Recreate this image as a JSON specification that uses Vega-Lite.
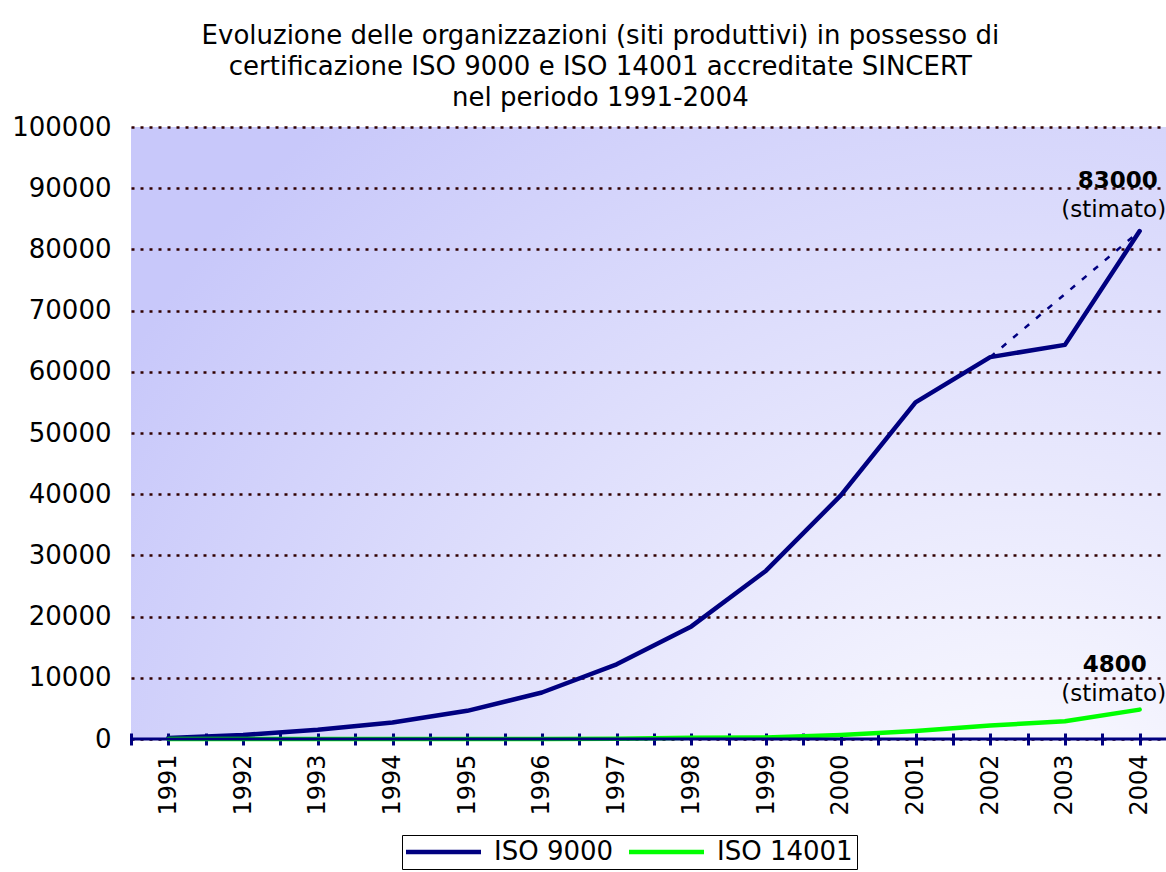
{
  "$schema": "https://vega.github.io/schema/vega-lite/v6.json",
  "width": 1046,
  "height": 612,
  "padding": {"left": 11, "top": 23, "right": 5, "bottom": 5},
  "title": {
    "text": ["Evoluzione delle organizzazioni (siti produttivi) in possesso di", "certificazione ISO 9000 e ISO 14001 accreditate SINCERT", "nel periodo 1991-2004"],
    "font": "DejaVu Sans",
    "fontSize": 26,
    "fontWeight": "normal",
    "color": "#000000",
    "lineHeight": 31,
    "anchor": "middle",
    "frame": "bounds",
    "offset": 3
  },
  "config": {
    "font": "DejaVu Sans",
    "view": {
      "stroke": null,
      "fill": {
        "gradient": "radial",
        "x1": 0.85, "y1": 0.95, "r1": 0,
        "x2": 0.85, "y2": 0.95, "r2": 1.0,
        "stops": [
          {"offset": 0, "color": "#ffffff"},
          {"offset": 1, "color": "#c8c8fa"}
        ]
      }
    }
  },
  "datasets": {
    "series": [
      {"year": 1991, "serie": "ISO 9000", "value": 150},
      {"year": 1992, "serie": "ISO 9000", "value": 650},
      {"year": 1993, "serie": "ISO 9000", "value": 1500},
      {"year": 1994, "serie": "ISO 9000", "value": 2700},
      {"year": 1995, "serie": "ISO 9000", "value": 4600},
      {"year": 1996, "serie": "ISO 9000", "value": 7600},
      {"year": 1997, "serie": "ISO 9000", "value": 12200},
      {"year": 1998, "serie": "ISO 9000", "value": 18400},
      {"year": 1999, "serie": "ISO 9000", "value": 27500},
      {"year": 2000, "serie": "ISO 9000", "value": 39800},
      {"year": 2001, "serie": "ISO 9000", "value": 55000},
      {"year": 2002, "serie": "ISO 9000", "value": 62400},
      {"year": 2003, "serie": "ISO 9000", "value": 64400},
      {"year": 2004, "serie": "ISO 9000", "value": 83000},
      {"year": 1991, "serie": "ISO 14001", "value": 0},
      {"year": 1992, "serie": "ISO 14001", "value": 0},
      {"year": 1993, "serie": "ISO 14001", "value": 0},
      {"year": 1994, "serie": "ISO 14001", "value": 0},
      {"year": 1995, "serie": "ISO 14001", "value": 0},
      {"year": 1996, "serie": "ISO 14001", "value": 0},
      {"year": 1997, "serie": "ISO 14001", "value": 50},
      {"year": 1998, "serie": "ISO 14001", "value": 200},
      {"year": 1999, "serie": "ISO 14001", "value": 250},
      {"year": 2000, "serie": "ISO 14001", "value": 650},
      {"year": 2001, "serie": "ISO 14001", "value": 1300},
      {"year": 2002, "serie": "ISO 14001", "value": 2200},
      {"year": 2003, "serie": "ISO 14001", "value": 2900},
      {"year": 2004, "serie": "ISO 14001", "value": 4800}
    ],
    "projection": [
      {"year": 2002, "value": 62400},
      {"year": 2004, "value": 83000}
    ],
    "notes": [
      {"year": 2004, "value": 83000, "label": "83000"},
      {"year": 2004, "value": 4800, "label": "4800"}
    ]
  },
  "encoding": {
    "x": {
      "field": "year",
      "type": "quantitative",
      "scale": {"domain": [1990.5, 2004.5], "nice": false, "zero": false},
      "axis": {
        "title": null,
        "values": [1990.5, 1991, 1991.5, 1992, 1992.5, 1993, 1993.5, 1994, 1994.5, 1995, 1995.5, 1996, 1996.5, 1997, 1997.5, 1998, 1998.5, 1999, 1999.5, 2000, 2000.5, 2001, 2001.5, 2002, 2002.5, 2003, 2003.5, 2004, 2004.5],
        "labelExpr": "datum.value % 1 == 0 ? '' + datum.value : ''",
        "labelAngle": 270,
        "labelAlign": "right",
        "labelBaseline": "middle",
        "labelFontSize": 24,
        "labelColor": "#000000",
        "labelPadding": 9,
        "labelOverlap": false,
        "labelFlush": false,
        "domain": false,
        "offset": -6,
        "tickSize": 12,
        "tickWidth": 3,
        "tickColor": "#000080",
        "grid": false
      }
    },
    "y": {
      "field": "value",
      "type": "quantitative",
      "scale": {"domain": [0, 100000], "nice": false},
      "axis": {
        "title": null,
        "values": [0, 10000, 20000, 30000, 40000, 50000, 60000, 70000, 80000, 90000, 100000],
        "format": "d",
        "labelFontSize": 26,
        "labelColor": "#000000",
        "labelPadding": 20,
        "domain": false,
        "ticks": false,
        "grid": true,
        "gridColor": "#300000",
        "gridDash": [3, 6],
        "gridWidth": 2.5,
        "gridOpacity": 1
      }
    }
  },
  "layer": [
    {
      "data": {"name": "series"},
      "mark": {"type": "line", "strokeWidth": 4.5, "strokeJoin": "round", "strokeCap": "round"},
      "encoding": {
        "color": {
          "field": "serie",
          "type": "nominal",
          "sort": ["ISO 9000", "ISO 14001"],
          "scale": {"domain": ["ISO 9000", "ISO 14001"], "range": ["#000080", "#00ff00"]},
          "legend": {
            "title": null,
            "orient": "none",
            "legendX": 271,
            "legendY": 708,
            "direction": "horizontal",
            "symbolType": "M-6.5,0L1,0",
            "symbolSize": 400,
            "symbolOffset": 52,
            "symbolStrokeWidth": 4.5,
            "labelFontSize": 26,
            "labelOffset": 10,
            "labelColor": "#000000",
            "labelLimit": 300,
            "strokeColor": "#000000",
            "padding": 4,
            "columnPadding": 6
          }
        },
        "order": {"field": "year", "type": "quantitative"}
      }
    },
    {
      "data": {"name": "projection"},
      "mark": {"type": "line", "color": "#000080", "strokeWidth": 2.5, "strokeDash": [6, 9]}
    },
    {
      "data": {"values": [{"value": 0}]},
      "mark": {"type": "rule", "color": "#000080", "strokeWidth": 3},
      "encoding": {"x": null, "y": {"field": "value", "type": "quantitative"}}
    },
    {
      "data": {"name": "notes"},
      "transform": [{"filter": "datum.label == '83000'"}],
      "mark": {"type": "text", "fontWeight": "bold", "fontSize": 23, "dx": -22, "dy": -50, "color": "#000000"},
      "encoding": {"text": {"field": "label"}}
    },
    {
      "data": {"name": "notes"},
      "transform": [{"filter": "datum.label == '83000'"}],
      "mark": {"type": "text", "text": "(stimato)", "fontSize": 23, "dx": -26, "dy": -21, "color": "#000000"}
    },
    {
      "data": {"name": "notes"},
      "transform": [{"filter": "datum.label == '4800'"}],
      "mark": {"type": "text", "fontWeight": "bold", "fontSize": 23, "dx": -25, "dy": -45, "color": "#000000"},
      "encoding": {"text": {"field": "label"}}
    },
    {
      "data": {"name": "notes"},
      "transform": [{"filter": "datum.label == '4800'"}],
      "mark": {"type": "text", "text": "(stimato)", "fontSize": 23, "dx": -26, "dy": -16, "color": "#000000"}
    }
  ]
}
